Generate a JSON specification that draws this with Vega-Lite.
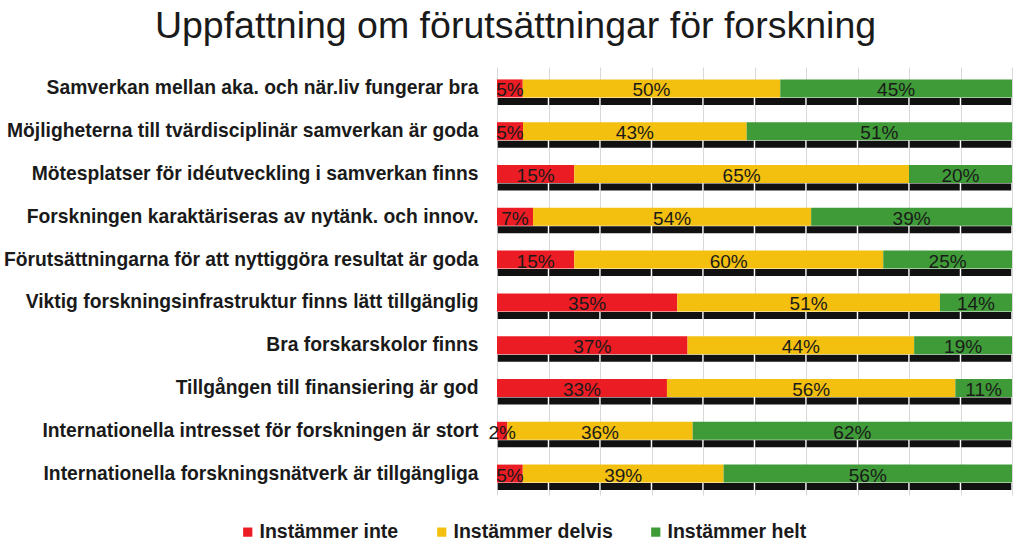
{
  "$schema": "https://vega.github.io/schema/vega-lite/v6.json",
  "width": 515,
  "height": 428,
  "autosize": "none",
  "padding": {"left": 497, "top": 67, "right": 12, "bottom": 55},
  "background": "white",
  "title": {
    "text": "Uppfattning om förutsättningar för forskning",
    "font": "Liberation Sans",
    "fontSize": 37.5,
    "fontWeight": "normal",
    "color": "#1a1a1a",
    "anchor": "middle",
    "frame": "group",
    "dx": -239,
    "offset": 22
  },
  "config": {"view": {"stroke": null}},
  "data": {
    "values": [
      {"q": "Samverkan mellan aka. och när.liv fungerar bra", "r": "Instämmer inte", "ord": 1, "v": 0.05},
      {"q": "Samverkan mellan aka. och när.liv fungerar bra", "r": "Instämmer delvis", "ord": 2, "v": 0.50},
      {"q": "Samverkan mellan aka. och när.liv fungerar bra", "r": "Instämmer helt", "ord": 3, "v": 0.45},
      {"q": "Möjligheterna till tvärdisciplinär samverkan är goda", "r": "Instämmer inte", "ord": 1, "v": 0.05},
      {"q": "Möjligheterna till tvärdisciplinär samverkan är goda", "r": "Instämmer delvis", "ord": 2, "v": 0.43},
      {"q": "Möjligheterna till tvärdisciplinär samverkan är goda", "r": "Instämmer helt", "ord": 3, "v": 0.51},
      {"q": "Mötesplatser för idéutveckling i samverkan finns", "r": "Instämmer inte", "ord": 1, "v": 0.15},
      {"q": "Mötesplatser för idéutveckling i samverkan finns", "r": "Instämmer delvis", "ord": 2, "v": 0.65},
      {"q": "Mötesplatser för idéutveckling i samverkan finns", "r": "Instämmer helt", "ord": 3, "v": 0.20},
      {"q": "Forskningen karaktäriseras av nytänk. och innov.", "r": "Instämmer inte", "ord": 1, "v": 0.07},
      {"q": "Forskningen karaktäriseras av nytänk. och innov.", "r": "Instämmer delvis", "ord": 2, "v": 0.54},
      {"q": "Forskningen karaktäriseras av nytänk. och innov.", "r": "Instämmer helt", "ord": 3, "v": 0.39},
      {"q": "Förutsättningarna för att nyttiggöra resultat är goda", "r": "Instämmer inte", "ord": 1, "v": 0.15},
      {"q": "Förutsättningarna för att nyttiggöra resultat är goda", "r": "Instämmer delvis", "ord": 2, "v": 0.60},
      {"q": "Förutsättningarna för att nyttiggöra resultat är goda", "r": "Instämmer helt", "ord": 3, "v": 0.25},
      {"q": "Viktig forskningsinfrastruktur finns lätt tillgänglig", "r": "Instämmer inte", "ord": 1, "v": 0.35},
      {"q": "Viktig forskningsinfrastruktur finns lätt tillgänglig", "r": "Instämmer delvis", "ord": 2, "v": 0.51},
      {"q": "Viktig forskningsinfrastruktur finns lätt tillgänglig", "r": "Instämmer helt", "ord": 3, "v": 0.14},
      {"q": "Bra forskarskolor finns", "r": "Instämmer inte", "ord": 1, "v": 0.37},
      {"q": "Bra forskarskolor finns", "r": "Instämmer delvis", "ord": 2, "v": 0.44},
      {"q": "Bra forskarskolor finns", "r": "Instämmer helt", "ord": 3, "v": 0.19},
      {"q": "Tillgången till finansiering är god", "r": "Instämmer inte", "ord": 1, "v": 0.33},
      {"q": "Tillgången till finansiering är god", "r": "Instämmer delvis", "ord": 2, "v": 0.56},
      {"q": "Tillgången till finansiering är god", "r": "Instämmer helt", "ord": 3, "v": 0.11},
      {"q": "Internationella intresset för forskningen är stort", "r": "Instämmer inte", "ord": 1, "v": 0.02},
      {"q": "Internationella intresset för forskningen är stort", "r": "Instämmer delvis", "ord": 2, "v": 0.36},
      {"q": "Internationella intresset för forskningen är stort", "r": "Instämmer helt", "ord": 3, "v": 0.62},
      {"q": "Internationella forskningsnätverk är tillgängliga", "r": "Instämmer inte", "ord": 1, "v": 0.05},
      {"q": "Internationella forskningsnätverk är tillgängliga", "r": "Instämmer delvis", "ord": 2, "v": 0.39},
      {"q": "Internationella forskningsnätverk är tillgängliga", "r": "Instämmer helt", "ord": 3, "v": 0.56}
    ]
  },
  "transform": [
    {"stack": "v", "groupby": ["q"], "sort": [{"field": "ord"}], "offset": "normalize", "as": ["x0", "x1"]},
    {"calculate": "(datum.x0 + datum.x1) / 2", "as": "xm"}
  ],
  "encoding": {
    "y": {
      "field": "q",
      "type": "nominal",
      "sort": null,
      "axis": {
        "title": null,
        "ticks": false,
        "domain": false,
        "labelFont": "Liberation Sans",
        "labelFontSize": 19.3,
        "labelFontWeight": "bold",
        "labelColor": "#1a1a1a",
        "labelPadding": 19,
        "labelLimit": 600
      }
    }
  },
  "layer": [
    {
      "transform": [{"filter": "datum.ord == 1"}],
      "mark": {"type": "rule", "color": "#111111", "strokeWidth": 7, "strokeDash": [50, 1.5], "strokeDashOffset": -0.75, "yOffset": 13},
      "encoding": {
        "x": {
          "datum": 0,
          "type": "quantitative",
          "scale": {"domain": [0, 1], "nice": false},
          "axis": {
            "values": [0, 0.1, 0.2, 0.3, 0.4, 0.5, 0.6, 0.7, 0.8, 0.9, 1],
            "grid": true,
            "gridColor": "#d9d9d9",
            "gridWidth": 1,
            "labels": false,
            "ticks": false,
            "domain": false,
            "title": null
          }
        },
        "x2": {"datum": 1}
      }
    },
    {
      "mark": {"type": "bar", "size": 18},
      "encoding": {
        "x": {"field": "x0", "type": "quantitative"},
        "x2": {"field": "x1"},
        "color": {
          "field": "r",
          "type": "nominal",
          "scale": {
            "domain": ["Instämmer inte", "Instämmer delvis", "Instämmer helt"],
            "range": ["#EC1C24", "#F4C010", "#3F9A38"]
          },
          "legend": {
            "title": null,
            "orient": "none",
            "legendX": -259,
            "legendY": 455,
            "direction": "horizontal",
            "symbolType": "square",
            "symbolSize": 85,
            "symbolStrokeWidth": 0,
            "labelFont": "Liberation Sans",
            "labelFontSize": 19.5,
            "labelFontWeight": "bold",
            "labelColor": "#1a1a1a",
            "labelOffset": 2,
            "columnPadding": 33,
            "padding": 0
          }
        }
      }
    },
    {
      "mark": {"type": "text", "font": "Liberation Sans", "fontSize": 19, "color": "#1a1a1a", "baseline": "middle", "dy": 2},
      "encoding": {
        "x": {"field": "xm", "type": "quantitative"},
        "text": {"field": "v", "type": "quantitative", "format": ".0%"}
      }
    }
  ]
}
